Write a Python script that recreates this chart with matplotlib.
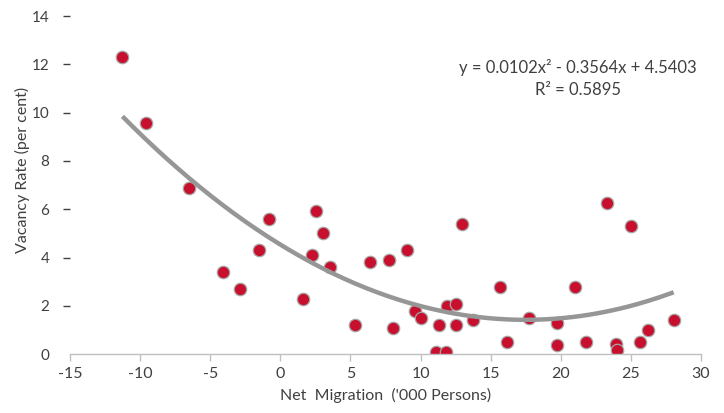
import numpy as np
import matplotlib.pyplot as plt

# Net migration ('000 persons) vs vacancy rate (per cent)
migration = [-11.26, -9.57, -6.52, -4.09, -2.86, -1.55, -0.81, 2.57, 3.07, 2.29,
             3.52, 1.62, 5.31, 6.38, 7.74, 9.02, 12.98, 23.33, 24.98, 15.69,
             21.02, 11.86, 12.50, 9.59, 10.00, 8.00, 11.33, 12.52, 13.71, 17.71,
             19.74, 16.14, 19.74, 21.81, 23.95, 24.02, 25.62, 26.24, 28.05, 11.10,
             11.83]
vacancy = [12.30, 9.59, 6.90, 3.40, 2.69, 4.31, 5.59, 5.91, 5.00, 4.10,
           3.62, 2.29, 1.20, 3.81, 3.91, 4.31, 5.40, 6.28, 5.30, 2.80,
           2.80, 2.00, 2.10, 1.79, 1.49, 1.10, 1.20, 1.20, 1.41, 1.49,
           1.30, 0.50, 0.39, 0.50, 0.41, 0.19, 0.50, 1.01, 1.41, 0.08,
           0.08]

# polynomial trendline as printed on the chart
coef = [0.0102, -0.3564, 4.5403]
r_squared = 0.5895

x_ticks = [-15, -10, -5, 0, 5, 10, 15, 20, 25, 30]
y_ticks = [0, 2, 4, 6, 8, 10, 12, 14]

plt.rcParams['font.family'] = ['Lato', 'DejaVu Sans']
plt.rcParams['axes.unicode_minus'] = False
text_col = '#404040'
fs = 11.5

fig = plt.figure(figsize=(7.24, 4.13), dpi=100)
ax = fig.add_axes([70 / 724, 1 - 354.3 / 413, 631 / 724, 338.3 / 413])

x_line = np.linspace(min(migration), max(migration), 200)
ax.plot(x_line, np.polyval(coef, x_line), color='#969696', lw=3.2,
        solid_capstyle='butt', zorder=3)
ax.scatter(migration, vacancy, s=80, color='#C8102E', edgecolors='#A6A6A6',
           linewidths=0.9, zorder=2)

ax.set_xlim(-15, 30)
ax.set_ylim(0, 14)
ax.set_xticks(x_ticks)
ax.set_yticks(y_ticks)

for side in ['top', 'right', 'left']:
    ax.spines[side].set_visible(False)
ax.spines['bottom'].set_color('#BFBFBF')
ax.spines['bottom'].set_linewidth(1.0)

ax.tick_params(axis='x', direction='out', length=5, width=1, color='#BFBFBF',
               labelcolor=text_col, labelsize=fs, pad=4)
ax.tick_params(axis='y', direction='out', length=5, width=1, color=text_col,
               labelcolor=text_col, labelsize=11, pad=10)
ax.yaxis.get_major_ticks()[0].tick1line.set_visible(False)

ax.set_xlabel("Net  Migration  ('000 Persons)", fontsize=fs, color=text_col,
              labelpad=5)
fig.text(22 / 724, 1 - 170 / 413, 'Vacancy Rate (per cent)', rotation=90,
         ha='center', va='center', fontsize=fs, color=text_col)

sign = '-' if coef[1] < 0 else '+'
eq = f'y = {coef[0]:.4f}x\u00b2 {sign} {abs(coef[1]):.4f}x + {coef[2]:.4f}'
fig.text(578 / 724, 1 - 68 / 413, eq, ha='center', va='center', fontsize=12,
         color=text_col)
fig.text(578 / 724, 1 - 90 / 413, f'R\u00b2 = {r_squared:.4f}', ha='center',
         va='center', fontsize=12, color=text_col)

fig.savefig('out.png', dpi=100)
